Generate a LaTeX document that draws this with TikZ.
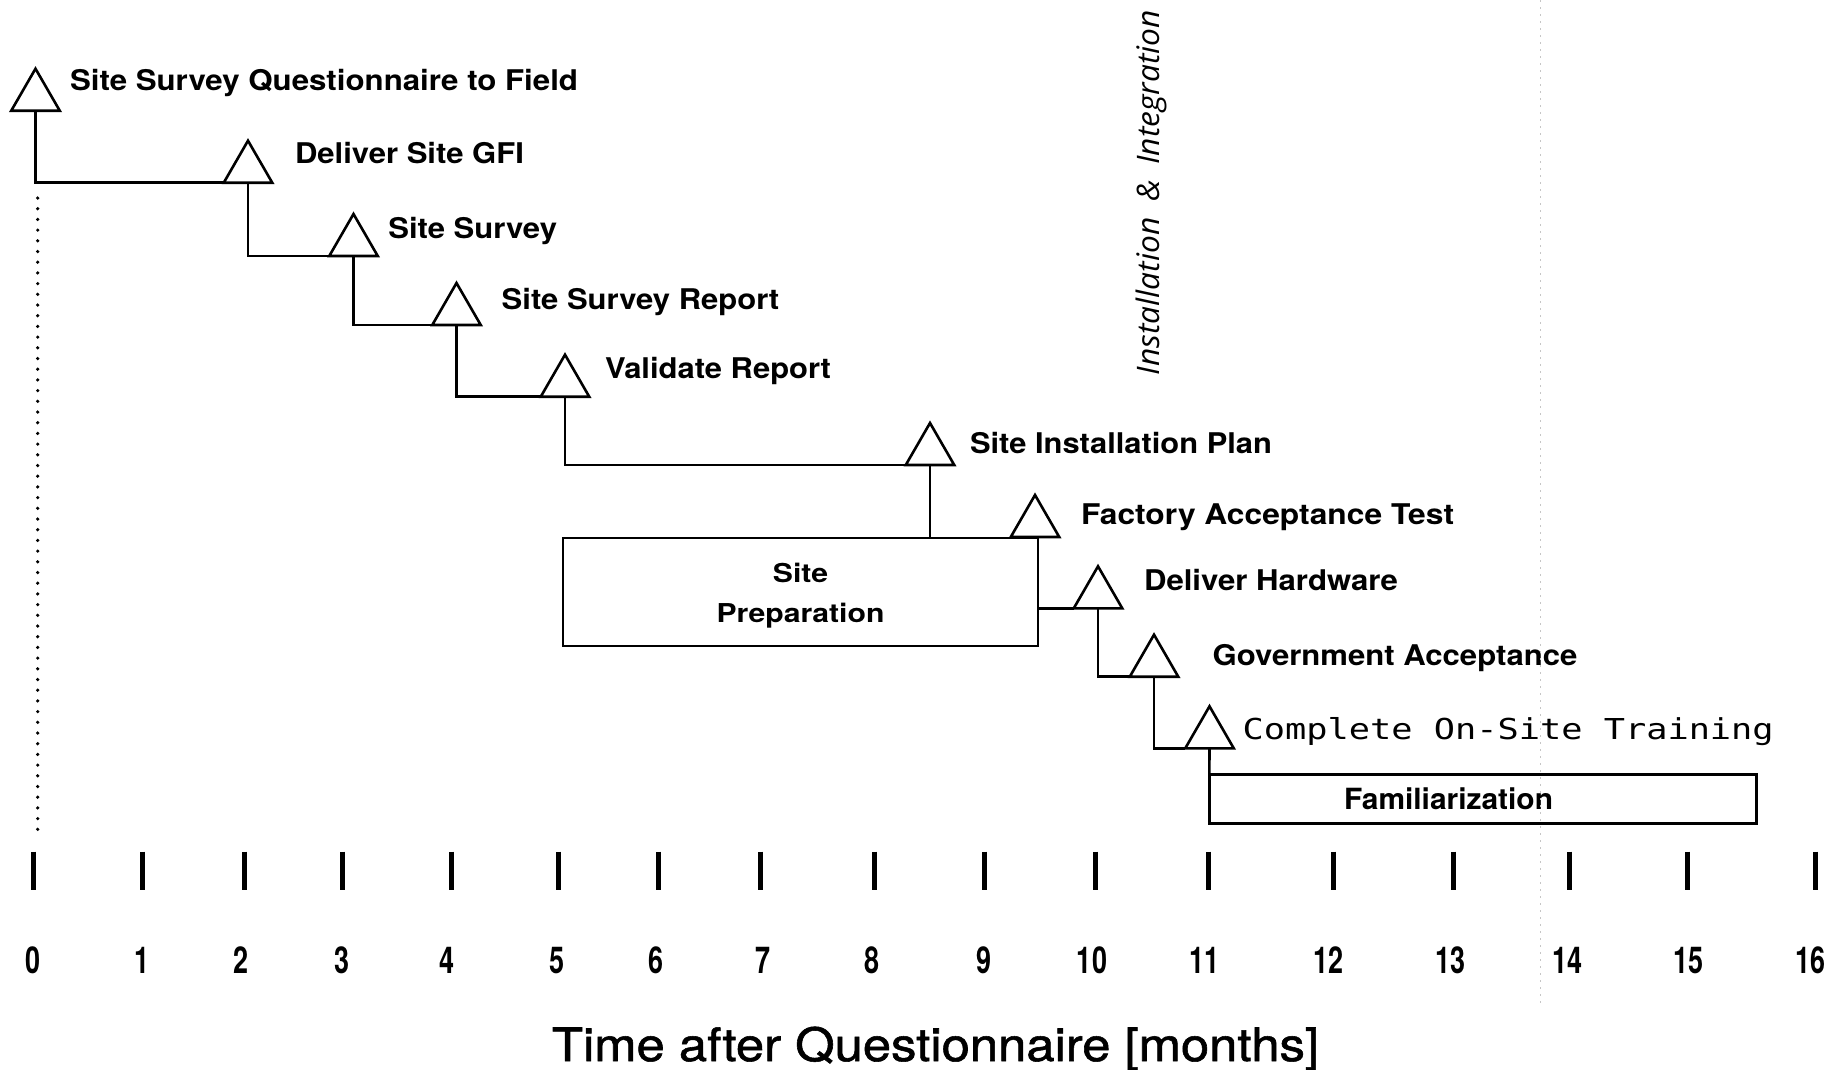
\documentclass[tikz,border=0pt]{standalone}
\usepackage{fontspec}
\setmainfont{TeX Gyre Heros}
\newfontfamily\monofam{DejaVu Sans Mono}
\newfontfamily\italfam{Open Sans}
\usetikzlibrary{shapes.geometric}
\newcommand\fitw[2]{\resizebox{#1pt}{\height}{#2}}
\begin{document}
\begin{tikzpicture}[x=1pt,y=-1pt,
  every node/.style={inner sep=0pt,outer sep=0pt},
  conn/.style={line width=2.6pt},
  tri/.style={draw,line width=2.6pt,regular polygon,regular polygon sides=3,minimum size=56pt,anchor=side 2},
  lab/.style={anchor=base west,font=\fontsize{28.5}{34}\selectfont\bfseries},
  boxstyle/.style={draw,line width=2.6pt},
  tickmark/.style={line width=5pt},
  ticklab/.style={anchor=base,font=\fontsize{37}{40}\selectfont\bfseries},
  dotline/.style={line width=3.6pt,line cap=round,dash pattern=on 0pt off 10.7pt},
  scanline/.style={gray!45,line width=1pt,dash pattern=on 2pt off 5pt}
]
\useasboundingbox (0,0) rectangle (1843,1069);

% milestones
\node[tri] (t0) at (35.5,110.7) {};
\node[tri] (t1) at (248,182.7) {};
\node[tri] (t2) at (353.5,256) {};
\node[tri] (t3) at (456.5,325) {};
\node[tri] (t4) at (565,396.7) {};
\node[tri] (t5) at (930,465) {};
\node[tri] (t6) at (1035,537) {};
\node[tri] (t7) at (1098,608.3) {};
\node[tri] (t8) at (1154,676.7) {};
\node[tri] (t9) at (1209.5,748.3) {};

% labels
\node[lab] (l0) at (70,90) {\fitw{508}{Site Survey Questionnaire to Field}};
\node[lab] (l1) at (295,163.3) {\fitw{229}{Deliver Site GFI}};
\node[lab] (l2) at (388.3,238.3) {\fitw{168.7}{Site Survey}};
\node[lab] (l3) at (501.7,309.3) {\fitw{277.6}{Site Survey Report}};
\node[lab] (l4) at (605,378.3) {\fitw{226}{Validate Report}};
\node[lab] (l5) at (970,453.3) {\fitw{302}{Site Installation Plan}};
\node[lab] (l6) at (1081,524) {\fitw{373}{Factory Acceptance Test}};
\node[lab] (l7) at (1144,590) {\fitw{254}{Deliver Hardware}};
\node[lab] (l8) at (1212.7,665) {\fitw{364.8}{Government Acceptance}};
\node[anchor=base west,font=\fontsize{28.8}{34}\selectfont\monofam] (l9) at (1242.7,739) {\fitw{531}{Complete On-Site Training}};

% activity boxes
\node[boxstyle,minimum width=475pt,minimum height=108pt,align=center,
  font=\fontsize{26}{39.4}\selectfont\bfseries] (prep) at (800.5,592)
  {\rule{0pt}{27pt}\scalebox{1.16}[1]{Site}\\\scalebox{1.16}[1]{Preparation}};
\node[boxstyle,minimum width=547.3pt,minimum height=49pt] (fam) at (1483,798.8) {};
\node[anchor=base,font=\fontsize{29.2}{34}\selectfont\bfseries] (famtxt) at (1448.5,809.3) {\fitw{209}{Familiarization}};

% phase label
\node[rotate=90,font=\fontsize{31}{36}\selectfont\italfam\itshape] (phase) at (1151,192.5)
  {\fitw{365}{Installation\hspace{0.5em}\&\hspace{0.5em}Integration}};

% connectors
\draw[conn] (t0.side 2) |- (t1.corner 2);
\draw[conn] (t1.side 2) |- (t2.corner 2);
\draw[conn] (t2.side 2) |- (t3.corner 2);
\draw[conn] (t3.side 2) |- (t4.corner 2);
\draw[conn] (t4.side 2) |- (t5.corner 2);
\draw[conn] (t5.side 2) -- (t5.side 2 |- prep.north);
\draw[conn] (prep.east |- t7.corner 2) -- (t7.corner 2);
\draw[conn] (t7.side 2) |- (t8.corner 2);
\draw[conn] (t8.side 2) |- (t9.corner 2);
\draw[conn] (t9.side 2) -- (fam.north west);

% time zero reference
\coordinate (d0) at (37.7,198);
\coordinate (d1) at (37.7,834);
\draw[dotline] (d0) -- (d1);
\coordinate (s0) at (1540,0);
\coordinate (s1) at (1540,1005);
\draw[scanline] (s0) -- (s1);

% axis
\foreach \tx/\lx [count=\n from 0] in {33/33,142/142,244.5/241,342/342,451/447,558/557,658/656,760.5/763,874.5/872,984/984,1095.5/1092,1208/1204,1333/1328,1453/1450,1569/1567,1687/1688,1815/1810}{
  \draw[tickmark] (\tx,851.7) -- (\tx,890);
  \node[ticklab] (num\n) at (\lx,973.3) {\scalebox{0.73}[1]{\n}};
}
\node[anchor=base,font=\fontsize{46}{50}\selectfont\addfontfeature{FakeBold=1.2}] (title) at (935.5,1061) {\fitw{767}{Time after Questionnaire [months]}};
\end{tikzpicture}
\end{document}
